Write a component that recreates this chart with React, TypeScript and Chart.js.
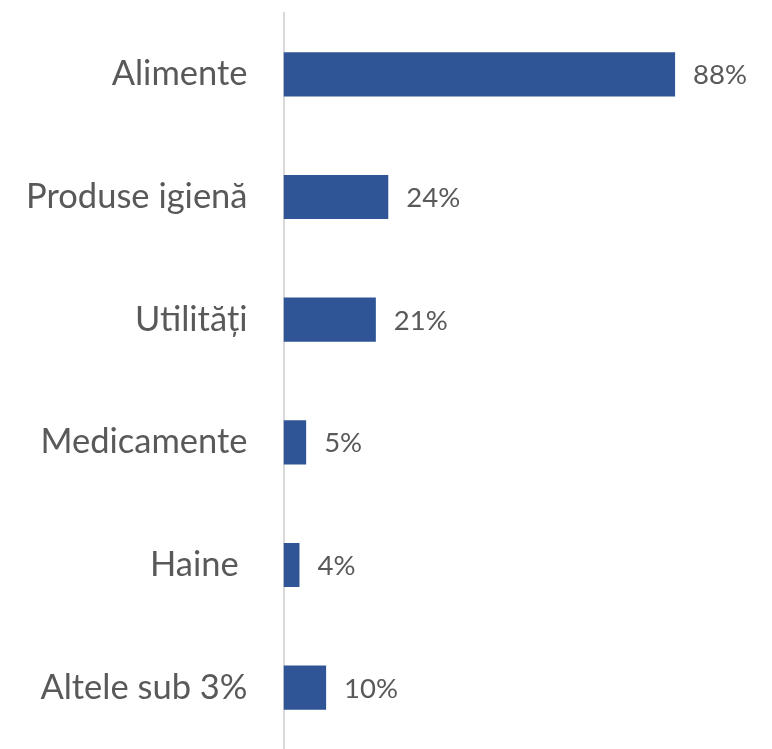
import React, { useEffect, useRef } from "react";
import { Chart, registerables } from "chart.js";

Chart.register(...registerables);

const categories: string[] = [
  "Alimente",
  "Produse igienă",
  "Utilități",
  "Medicamente",
  "Haine ",
  "Altele sub 3%",
];
const values: number[] = [88.2, 23.6, 20.8, 5.1, 3.6, 9.6];
const valueLabels: string[] = ["88%", "24%", "21%", "5%", "4%", "10%"];
const axisMax = 100;

const BAR_COLOR = "#2F5597";
const TEXT_COLOR = "#595959";
const FONT = "Lato, 'Liberation Sans', sans-serif";

const dataLabelPlugin = {
  id: "dataLabels",
  afterDatasetsDraw(chart: any) {
    const ctx = chart.ctx;
    const meta = chart.getDatasetMeta(0);
    ctx.save();
    ctx.fillStyle = TEXT_COLOR;
    ctx.font = `27.5px ${FONT}`;
    ctx.textAlign = "left";
    ctx.textBaseline = "middle";
    meta.data.forEach((bar: any, i: number) => {
      ctx.fillText(valueLabels[i], bar.x + 18, bar.y + 1);
    });
    ctx.restore();
  },
};

export default function App() {
  const canvasRef = useRef<HTMLCanvasElement | null>(null);

  useEffect(() => {
    document.body.style.margin = "0";
    const canvas = canvasRef.current;
    if (!canvas) return;
    const chart = new Chart(canvas, {
      type: "bar",
      data: {
        labels: categories,
        datasets: [
          {
            data: values,
            backgroundColor: BAR_COLOR,
            borderWidth: 0,
            categoryPercentage: 1,
            barPercentage: 0.36,
          },
        ],
      },
      options: {
        indexAxis: "y",
        responsive: false,
        animation: false,
        layout: { padding: { top: 13, right: 44.5, bottom: 0, left: 0 } },
        plugins: {
          legend: { display: false },
          tooltip: { enabled: false },
        },
        scales: {
          x: {
            display: false,
            min: 0,
            max: axisMax,
          },
          y: {
            grid: { display: false, drawTicks: false },
            border: { display: true, color: "#D9D9D9", width: 2 },
            ticks: {
              color: TEXT_COLOR,
              font: { family: FONT, size: 34.5 },
              padding: 36,
            },
            afterFit: (scale: any) => {
              scale.width = 283.5;
              scale.paddingTop = 0;
              scale.paddingBottom = 0;
            },
          },
        },
      },
      plugins: [dataLabelPlugin],
    });
    return () => chart.destroy();
  }, []);

  return (
    <div style={{ width: 772, height: 749 }}>
      <canvas
        ref={canvasRef}
        width={772}
        height={749}
        style={{ display: "block", width: 772, height: 749 }}
      />
    </div>
  );
}
